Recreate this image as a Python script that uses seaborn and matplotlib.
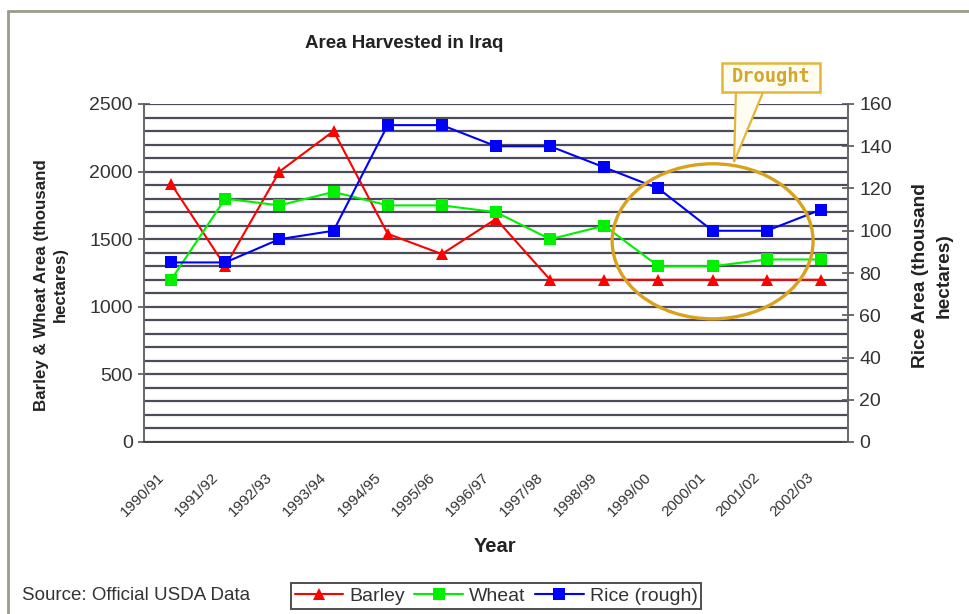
import numpy as np
import pandas as pd
import matplotlib
matplotlib.use("Agg")
import matplotlib.pyplot as plt
import matplotlib.transforms as mtransforms
import seaborn as sns
from matplotlib.patches import Ellipse, Polygon, Rectangle
from matplotlib.lines import Line2D

# ---- data (thousand hectares) ----
years = ["1990/91", "1991/92", "1992/93", "1993/94", "1994/95", "1995/96",
         "1996/97", "1997/98", "1998/99", "1999/00", "2000/01", "2001/02",
         "2002/03"]
barley = [1910, 1300, 2000, 2300, 1540, 1390, 1650, 1200, 1200, 1200, 1200, 1200, 1200]
wheat = [1200, 1800, 1750, 1850, 1750, 1750, 1700, 1500, 1600, 1300, 1300, 1350, 1350]
rice = [85, 85, 96, 100, 150, 150, 140, 140, 130, 120, 100, 100, 110]

sns.set_style("white")
plt.rcParams["font.family"] = ["Liberation Sans", "DejaVu Sans"]

W, H = 970, 614
fig = plt.figure(figsize=(W / 100, H / 100), dpi=100)


def fx(px):
    return px / W


def fy(py):
    return 1 - py / H


ax = fig.add_axes([fx(144), fy(442), fx(848) - fx(144), fy(104) - fy(442)])
ax2 = ax.twinx()

pos = np.arange(len(years))
df = pd.DataFrame({"pos": pos, "Barley": barley, "Wheat": wheat, "Rice (rough)": rice})

RED, GREEN, BLUE = "#FF0000", "#00F000", "#0000FF"
sns.lineplot(data=df, x="pos", y="Barley", ax=ax, color=RED, marker="^",
             markersize=9, markeredgewidth=0, linewidth=1.5, zorder=4)
sns.lineplot(data=df, x="pos", y="Wheat", ax=ax, color=GREEN, marker="s",
             markersize=8, markeredgewidth=0, linewidth=1.5, zorder=4)
sns.lineplot(data=df, x="pos", y="Rice (rough)", ax=ax2, color=BLUE, marker="s",
             markersize=8, markeredgewidth=0, linewidth=1.5, zorder=4)

# ---- left axis: barley & wheat ----
ax.set_xlim(-0.5, len(years) - 0.5)
ax.set_ylim(0, 2500)
ax.set_yticks(np.arange(0, 2501, 500))
ax.set_yticks(np.arange(0, 2501, 100), minor=True)
ax.yaxis.grid(True, which="both", color="#4b4b5b", linewidth=1.6, zorder=0)
ax.set_axisbelow(True)
ax.tick_params(axis="y", which="major", direction="inout", length=8, width=1.2,
               color="#555555", labelsize=14, labelcolor="#333333", pad=4)
ax.tick_params(axis="y", which="minor", length=0)

# category axis: ticks at the boundaries, labels at the centres
ax.set_xticks(np.arange(-0.5, len(years), 1.0))
ax.set_xticklabels([])
ax.set_xticks(pos, minor=True)
ax.set_xticklabels(years, minor=True, rotation=45, ha="right", va="top",
                   rotation_mode="anchor", fontsize=11, color="#333333")
ax.tick_params(axis="x", which="major", direction="out", length=5, width=1.2,
               color="#555555")
ax.tick_params(axis="x", which="minor", length=0, pad=20)
shift = mtransforms.ScaledTranslation(-14 / 100, 0, fig.dpi_scale_trans)
for lbl in ax.get_xticklabels(minor=True):
    lbl.set_transform(lbl.get_transform() + shift)
ax.set_xlabel("")
ax.set_ylabel("")

# ---- right axis: rice ----
ax2.set_ylim(0, 160)
ax2.set_yticks(np.arange(0, 161, 20))
ax2.tick_params(axis="y", direction="inout", length=8, width=1.2, color="#555555",
                labelsize=14, labelcolor="#333333", pad=4)
ax2.set_ylabel("")
ax2.grid(False)

for a in (ax, ax2):
    a.spines["top"].set_visible(False)
ax.spines["left"].set_color("#666666")
ax.spines["left"].set_linewidth(1.4)
ax.spines["bottom"].set_color("#444444")
ax.spines["bottom"].set_linewidth(1.4)
ax.spines["right"].set_visible(False)
ax2.spines["left"].set_visible(False)
ax2.spines["bottom"].set_visible(False)
ax2.spines["right"].set_color("#666666")
ax2.spines["right"].set_linewidth(1.4)

# ---- titles and axis labels ----
fig.text(fx(404), fy(43), "Area Harvested in Iraq", ha="center", va="center",
         fontsize=13.5, fontweight="bold", color="#222222")
fig.text(fx(51), fy(285), "Barley & Wheat Area (thousand\nhectares)", rotation=90,
         ha="center", va="center", multialignment="center", fontsize=12.2,
         fontweight="bold", linespacing=1.3, color="#222222")
fig.text(fx(932), fy(276), "Rice Area (thousand\nhectares)", rotation=90,
         ha="center", va="center", multialignment="center", fontsize=13.8,
         fontweight="bold", linespacing=1.5, color="#222222")
fig.text(fx(495), fy(547), "Year", ha="center", va="center", fontsize=14.5,
         fontweight="bold", color="#222222")
fig.text(fx(22), fy(595), "Source: Official USDA Data", ha="left", va="center",
         fontsize=13.5, color="#333333")

# ---- drought highlight ----
GOLD = "#D9A21E"
ell = Ellipse((10.0, 95.0), width=3.71, height=73.4, fill=False, edgecolor=GOLD,
              linewidth=2.4, zorder=6, clip_on=False)
ax2.add_patch(ell)

pointer = Polygon([(fx(736), fy(90)), (fx(764), fy(90)), (fx(734), fy(162))],
                  closed=True, transform=fig.transFigure, facecolor="#FFFDF2",
                  edgecolor="#E3B53A", linewidth=1.6, zorder=7)
fig.add_artist(pointer)
box = Rectangle((fx(722), fy(92)), fx(820) - fx(722), fy(63) - fy(92),
                transform=fig.transFigure, facecolor="#FFFDF2", edgecolor="#E3B53A",
                linewidth=1.8, zorder=8)
fig.add_artist(box)
fig.text(fx(771), fy(77), "Drought", ha="center", va="center", fontsize=13.5,
         family="DejaVu Sans Mono", fontweight="bold", color="#D4A62A", zorder=9)

# ---- legend ----
handles = [
    Line2D([], [], color=RED, marker="^", markersize=9, markeredgewidth=0, linewidth=1.5),
    Line2D([], [], color=GREEN, marker="s", markersize=8, markeredgewidth=0, linewidth=1.5),
    Line2D([], [], color=BLUE, marker="s", markersize=8, markeredgewidth=0, linewidth=1.5),
]
leg = fig.legend(handles, ["Barley", "Wheat", "Rice (rough)"], loc="center",
                 bbox_to_anchor=(fx(496), fy(596)), ncol=3, frameon=True,
                 fancybox=False, edgecolor="#222222", fontsize=14,
                 handlelength=2.5, handletextpad=0.3, columnspacing=0.5,
                 borderpad=0.2, borderaxespad=0)
leg.get_frame().set_linewidth(1.4)
for t in leg.get_texts():
    t.set_color("#333333")

# ---- outer chart frame (clipped at the right and bottom) ----
frame_color = "#9c9c8c"
fig.add_artist(Line2D([fx(8), fx(8)], [fy(11), 0], transform=fig.transFigure,
                      color=frame_color, linewidth=2))
fig.add_artist(Line2D([fx(8), 1], [fy(11), fy(11)], transform=fig.transFigure,
                      color=frame_color, linewidth=2))

fig.savefig("out.png", dpi=100)
